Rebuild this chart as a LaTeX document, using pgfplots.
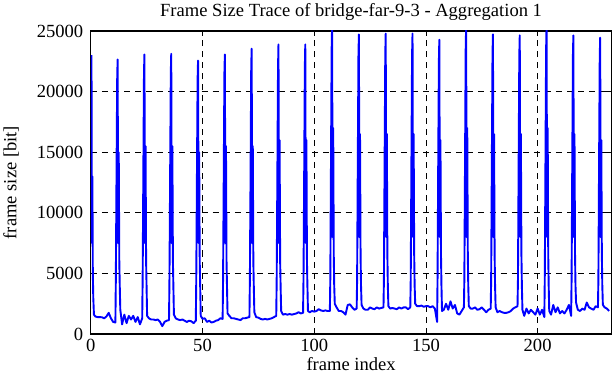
\documentclass[border=0pt]{standalone}
\usepackage{fontspec}
\setmainfont{Liberation Serif}
\usepackage{pgfplots}
\usepackage{pgfplotstable}
\pgfplotsset{compat=1.18}
\pgfplotstableread{
x y
0.3 23000
0.5 7500
0.7 13000
0.9 5000
1.1 3000
1.4 1600
2 1450
3 1400
4 1400
5 1380
6 1300
7 1450
8 1750
9 1300
10 1000
11 950
11.2 4500
11.5 13000
11.8 21000
12 22650
12.25 7500
12.5 15000
12.75 6000
12.95 4000
13.2 2000
14 800
15 1600
16 900
17 1500
18 1200
19 1500
20 1000
21 1400
22 800
23 1300
23.2 4500
23.5 13000
23.8 21500
24 23060
24.25 7500
24.5 15500
24.75 6000
24.95 4000
25.2 1500
26 1300
27 1200
28 1200
29 1150
30 1200
31 1000
32 650
33 1000
34 1100
35 1150
35.2 4500
35.5 13000
35.8 21500
36 23120
36.25 7500
36.5 15500
36.75 6000
36.95 4000
37.2 1600
38 1300
39 1200
40 1150
41 1200
42 1100
43 1000
44 1100
45 1050
46 900
47 1100
47.2 4500
47.5 13000
47.8 21000
48 22560
48.25 7500
48.5 15000
48.75 6000
48.95 4000
49.2 1500
50 1250
51 1300
52 1000
53 1100
54 950
55 1000
56 1100
57 1150
58 1300
59 1250
59.2 4500
59.5 13000
59.8 21500
60 23060
60.25 7500
60.5 15500
60.75 6000
60.95 4000
61.2 1700
62 1500
63 1300
64 1300
65 1250
66 1200
67 1150
68 1300
69 1300
70 1350
71 1400
71.2 4500
71.5 13000
71.8 22000
72 23540
72.25 7500
72.5 15500
72.75 6000
72.95 4000
73.2 1800
74 1400
75 1350
76 1250
77 1200
78 1250
79 1200
80 1250
81 1300
82 1400
83 1500
83.2 4500
83.5 13000
83.8 22000
84 23890
84.25 7500
84.5 16000
84.75 6000
84.95 4000
85.2 1900
86 1600
87 1650
88 1600
89 1650
90 1600
91 1650
92 1700
93 1800
94 1700
95 1750
95.2 4500
95.5 13000
95.8 22000
96 23890
96.25 7500
96.5 16000
96.75 6000
96.95 4000
97.2 1900
98 1800
99 1900
100 1850
101 1900
102 2050
103 1950
104 1900
105 1950
106 1900
107 1900
107.2 4500
107.5 14000
107.8 23500
108 25400
108.25 8000
108.5 17000
108.75 6500
108.95 4000
109.2 2500
110 2200
111 1900
112 1900
113 1800
114 1600
115 2400
116 2450
117 2200
118 2000
119 2100
119.2 4500
119.5 14000
119.8 23000
120 24720
120.25 8000
120.5 16500
120.75 6500
120.95 4000
121.2 2400
122 2100
123 2000
124 2000
125 2200
126 2100
127 2050
128 2200
129 2100
130 2150
131 2200
131.2 4500
131.5 14000
131.8 23000
132 24780
132.25 8000
132.5 16500
132.75 6500
132.95 4000
133.2 2300
134 2100
135 2150
136 2100
137 2050
138 2200
139 2100
140 2200
141 2200
142 2050
143 2200
143.2 4500
143.5 14000
143.8 23000
144 24780
144.25 8000
144.5 16500
144.75 6500
144.95 4000
145.2 2500
146 2300
147 2300
148 2350
149 2250
150 2300
151 2300
152 2200
153 2300
154 2100
155 1000
155.2 4500
155.5 14000
155.8 22500
156 24280
156.25 8000
156.5 16000
156.75 6500
156.95 4000
157.2 1900
158 2000
159 2500
160 2000
161 2700
162 2100
163 2400
164 1700
165 1600
166 1900
167 2200
167.2 4500
167.5 14000
167.8 23500
168 25400
168.25 8000
168.5 17000
168.75 6500
168.95 4000
169.2 2300
170 2100
171 2100
172 2200
173 2000
174 2050
175 2200
176 2000
177 1800
178 2000
179 2100
179.2 4500
179.5 14000
179.8 23000
180 24720
180.25 8000
180.5 16500
180.75 6500
180.95 4000
181.2 2200
182 1800
183 1900
184 1800
185 1750
186 1750
187 1800
188 1900
189 2100
190 2200
191 2300
191.2 4500
191.5 14000
191.8 23000
192 24640
192.25 8000
192.5 16500
192.75 6500
192.95 4000
193.2 2000
194 1500
195 2100
196 1700
197 2000
198 1800
199 1600
200 2100
201 1600
202 2000
203 1400
203.2 4500
203.5 14000
203.8 23500
204 25400
204.25 8000
204.5 17000
204.75 6500
204.95 4000
205.2 1900
206 1600
207 2400
208 1800
209 2200
210 1700
211 1900
212 1700
213 2000
214 2400
215 1500
215.2 4500
215.5 14000
215.8 23000
216 24640
216.25 8000
216.5 16500
216.75 6500
216.95 4000
217.2 2600
218 2000
219 1900
220 2100
221 2000
222 2600
223 2200
224 2100
225 2000
226 2300
227 2200
227.2 4500
227.5 14000
227.8 22800
228 24450
228.25 8000
228.5 16000
228.75 6500
228.95 4000
229.2 2400
230 2200
231 2100
232 1900
}\tracedata
\begin{document}
\begin{tikzpicture}
\begin{axis}[
  scale only axis,
  width=517bp, height=301bp,
  xmin=0, xmax=233, ymin=0, ymax=25000,
  xtick={0,50,100,150,200},
  ytick={0,5000,10000,15000,20000,25000},
  scaled y ticks=false,
  /pgf/number format/assume math mode=true,
  /pgf/number format/1000 sep={},
  font=\fontsize{18.5}{22}\selectfont,
  tick label style={font=\fontsize{18.5}{22}\selectfont},
  yticklabel style={xshift=-4bp},
  xticklabel style={yshift=-2bp},
  title={Frame Size Trace of bridge-far-9-3 - Aggregation 1},
  title style={yshift=1bp},
  xlabel={frame index},
  ylabel={frame size [bit]},
  xlabel style={yshift=2bp},
  ylabel style={yshift=11bp},
  tick align=inside,
  major tick length=5bp,
  tick style={black, line width=0.8pt},
  axis line style={line width=1.3pt},
  xmajorgrids, ymajorgrids,
  major grid style={black, line width=0.7pt, dash pattern=on 6bp off 5bp},
  clip=true,
]
\addplot[color={rgb,255:red,0;green,0;blue,255}, line width=1.9pt, line join=round, mark=none] table[x=x,y=y] {\tracedata};
\end{axis}
\end{tikzpicture}
\end{document}
